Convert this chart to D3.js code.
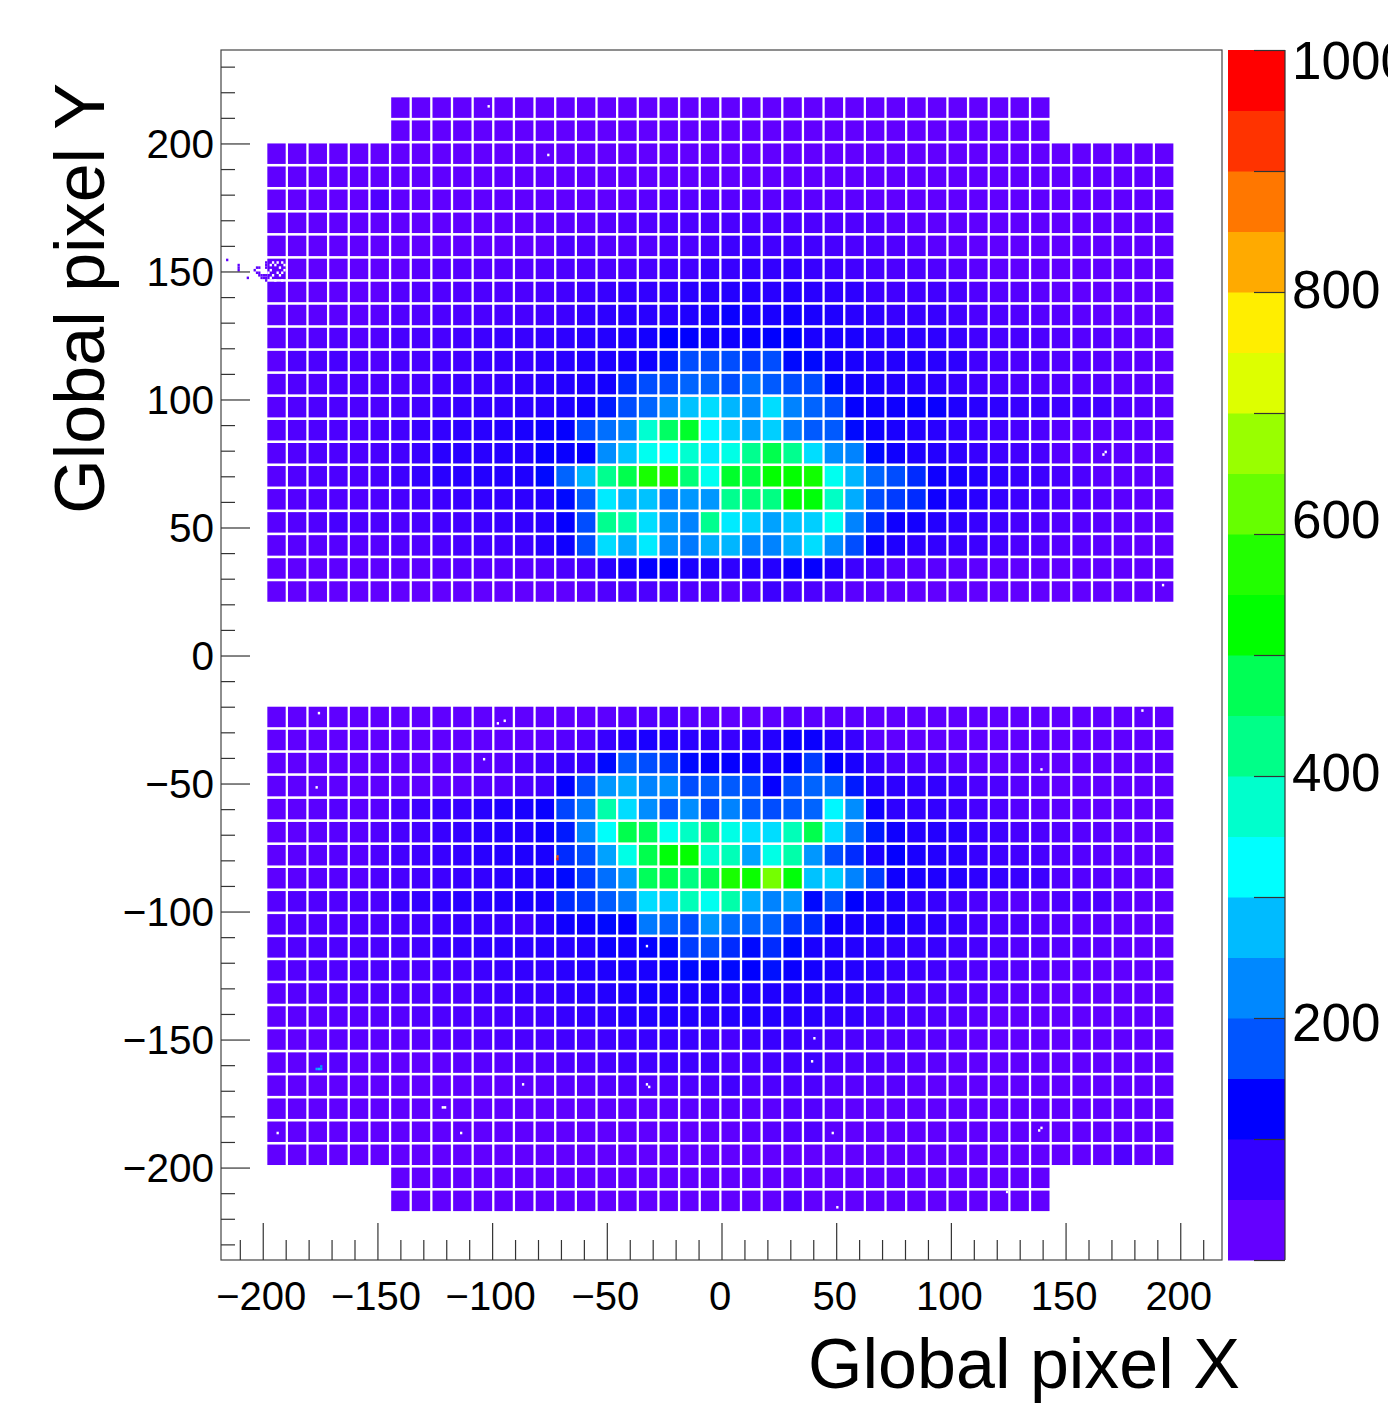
<!DOCTYPE html>
<html>
<head>
<meta charset="utf-8">
<style>
  html, body { margin: 0; background: #fff; overflow: hidden; }
  svg { display: block; }
  text { font-family: "Liberation Sans", sans-serif; fill: #000; }
</style>
<script src="https://cdn.jsdelivr.net/npm/d3@7"></script>
</head>
<body>
<svg id="chart" width="1388" height="1403"></svg>
<script>
// mean counts per 8x8 tile. upper panel, top row first.
// short rows (32 tiles) are the caps, they sit centred on the 44 tile rows
const topRows = [
  [28,28,28,28,28,28,28,28,28,28,28,28,28,28,28,28,28,28,28,28,28,28,28,28,28,28,28,28,28,28,28,28],
  [28,28,28,28,28,28,28,28,28,28,28,28,28,28,28,28,28,28,28,28,28,28,28,28,28,28,28,28,28,28,28,28],
  [28,28,28,28,28,28,28,28,28,28, 28,28,28,28,28,28,28,28,28,28, 28,28,28,28,28,28,28,28,28,28, 28,28,28,28,28,28,28,28,28,28, 28,28,28,28],
  [30,30,30,30,30,30,30,30,30,30, 30,30,30,30,30,30,30,30,30,30, 30,30,30,30,30,30,30,30,30,30, 30,30,30,30,30,30,30,30,30,30, 30,30,30,30],
  [28,28,28,28,28,45,30,30,30,30, 30,30,30,30,30,30,30,30,36,38, 38,40,38,38,36,36,35,35,34,32, 30,30,30,30,30,30,30,30,30,30, 30,30,30,30],
  [30,30,30,30,30,30,30,30,30,30, 30,30,30,35,35,35,40,42,45,48, 50,50,52,52,50,50,48,46,45,45, 36,34,32,32,30,30,30,30,30,30, 30,30,30,30],
  [30,30,30,30,30,30,30,30,30,30, 30,30,30,32,50,45,40,40,42,50, 50,55,65,65,60,60,60,55,50,50, 45,40,35,32,30,30,30,30,30,30, 30,30,30,30],
  [30,30,30,30,30,30,30,38,40,40, 40,40,42,45,50,50,50,50,55,60, 60,70,70,75,75,75,70,65,60,55, 50,50,45,40,35,32,30,30,30,30, 30,30,30,30],
  [35,32,32,32,32,32,42,45,45,45, 48,48,50,55,60,65,70,75,75,75, 85,85,90,90,85,90,85,80,80,65, 60,60,60,55,45,40,40,35,32,30, 30,30,30,30],
  [35,35,35,35,35,38,45,45,50,50, 52,55,55,60,65,75,80,85,85,85, 95,100,115,100,100,105,100,95,85,80, 70,70,70,60,50,50,45,40,40,35, 32,30,30,30],
  [35,40,42,45,42,45,55,55,55,60, 65,70,70,75,80,85,90,95,105,125, 125,110,110,115,125,125,100,100,100,85, 85,80,80,70,60,55,55,50,45,40, 40,35,32,30],
  [35,50,50,55,50,45,55,55,60,60, 70,70,70,80,85,90,95,100,110,140, 170,170,170,160,170,130,130,105,100,90, 90,90,85,80,60,55,50,50,45,45, 40,35,35,30],
  [40,45,45,50,50,50,50,55,60,65, 65,70,75,85,90,95,105,150,170,170, 190,190,170,200,180,170,170,130,105,100, 90,85,80,70,60,55,50,45,45,40, 40,35,35,30],
  [38,45,50,50,50,50,55,60,65,70, 75,75,80,85,95,105,140,170,190,230, 280,300,270,230,300,220,190,170,120,110, 110,115,115,95,85,80,70,70,65,60, 60,45,40,35],
  [40,45,48,50,50,55,60,70,75,80, 85,90,100,110,120,170,200,220,370,460, 500,320,290,250,290,210,180,180,130,110, 100,90,85,75,65,60,55,50,40,35, 35,35,35,32],
  [40,45,50,50,50,55,60,70,85,85, 85,90,90,115,115,120,230,280,340,330, 370,310,350,420,480,420,300,230,220,130, 110,95,90,80,70,65,60,55,40,35, 35,35,32,30],
  [38,45,48,50,50,55,65,75,85,85, 90,90,95,130,190,270,420,480,560,560, 440,340,500,480,530,530,550,340,270,190, 170,150,110,100,90,80,70,65,55,50, 35,35,32,30],
  [38,42,45,45,45,50,55,60,65,70, 75,75,80,90,130,180,310,270,280,220, 240,240,420,440,430,520,520,380,260,170, 160,150,110,95,85,75,65,60,50,45, 40,35,32,30],
  [38,42,45,55,50,50,50,55,60,60, 65,70,75,85,120,170,420,400,300,240, 220,420,310,290,250,280,290,340,220,150, 110,105,90,80,70,65,55,50,45,42, 38,35,32,30],
  [35,38,38,40,40,40,45,45,50,55, 60,60,65,85,110,170,300,260,310,230, 210,260,270,220,220,260,300,230,170,110, 95,80,75,70,65,60,50,45,40,38, 35,32,30,30],
  [30,30,30,32,32,32,34,34,36,38, 38,38,38,42,50,55,85,105,120,125, 100,95,80,90,90,110,120,95,65,60, 40,38,36,34,32,32,30,30,30,30, 30,30,30,30],
  [28,28,28,28,28,28,28,28,28,28, 28,28,28,28,30,35,45,50,50,50, 45,45,40,45,65,55,50,45,35,35, 32,30,28,28,28,28,28,28,28,28, 28,28,28,28]
]

// lower panel, top row first
const bottomRows = [
  [30,30,30,30,30,30,30,30,30,30, 30,30,30,30,30,30,33,38,42,48, 38,33,30,30,32,38,35,35,35,30, 30,30,30,30,30,30,30,30,30,30, 30,30,30,30],
  [30,30,30,30,30,30,30,30,30,30, 30,30,30,32,40,45,70,85,100,90, 85,80,70,85,90,110,115,90,70,35, 30,30,30,30,30,30,30,30,30,30, 30,30,30,30],
  [30,30,30,30,30,30,30,30,30,30, 35,38,45,60,70,70,130,180,170,160, 130,120,120,110,100,120,160,120,100,70, 50,45,45,35,32,30,30,30,30,30, 30,30,30,30],
  [32,32,32,32,32,32,32,32,32,32, 40,40,50,60,120,170,240,260,220,230, 170,180,180,170,120,170,190,190,140,90, 80,75,75,65,50,50,38,35,30,30, 30,30,30,30],
  [30,32,35,40,35,38,55,65,70,70, 85,95,100,115,165,210,400,300,230,180, 230,170,220,180,170,180,190,320,230,110, 80,75,75,65,55,50,40,35,35,30, 30,30,30,30],
  [30,32,35,38,38,45,55,60,70,75, 85,90,90,110,140,220,330,480,470,340, 380,420,350,300,300,390,480,300,200,140, 110,90,90,85,70,65,55,50,45,40, 38,32,30,30],
  [32,35,38,40,40,50,60,65,70,75, 85,90,95,100,150,170,250,350,480,520, 530,370,390,250,350,400,240,170,150,100, 120,100,90,85,70,65,60,55,45,42, 38,35,32,30],
  [32,35,38,40,40,50,55,60,65,70, 75,85,90,100,130,160,200,240,470,480, 430,470,560,540,640,520,280,290,220,160, 110,100,95,90,80,75,70,65,45,42, 40,35,32,30],
  [40,45,45,45,50,50,70,75,80,85, 85,90,100,100,150,160,180,210,300,290, 390,340,400,260,220,240,130,170,125,100, 95,75,70,60,50,45,38,38,50,50, 50,35,32,30],
  [40,45,45,45,48,50,55,60,65,70, 70,70,60,85,110,110,130,120,210,190, 170,240,200,190,190,160,150,110,100,100, 100,85,80,70,55,50,50,40,40,35, 35,32,30,30],
  [42,45,48,48,50,52,55,60,70,72, 78,80,80,85,85,90,110,105,120,130, 160,170,150,130,150,130,100,95,90,85, 75,70,70,60,55,50,42,42,40,38, 35,32,30,30],
  [40,42,45,45,48,50,50,50,55,55, 65,70,75,75,85,90,95,100,100,110, 130,120,130,125,135,115,105,95,90,85, 70,65,60,50,45,45,40,38,35,32, 30,30,30,30],
  [35,40,40,42,42,45,45,48,50,50, 60,65,70,70,80,85,90,95,105,100, 100,100,90,95,95,90,90,85,80,70, 60,50,50,45,42,38,35,30,30,30, 30,30,30,30],
  [32,35,35,38,38,40,40,45,48,50, 52,55,58,62,72,75,78,88,92,95, 92,85,90,95,90,85,85,75,75,60, 55,50,45,40,35,30,30,30,30,30, 30,30,30,30],
  [30,30,30,35,35,35,35,38,40,42, 45,50,52,52,60,55,62,65,70,70, 70,65,55,65,70,65,60,55,50,45, 42,40,38,35,30,30,30,30,30,30, 30,30,30,30],
  [30,30,35,38,30,30,30,30,32,35, 38,38,40,42,48,50,55,60,62,65, 65,62,50,55,58,58,65,50,45,45, 40,38,35,30,30,30,30,30,30,30, 30,30,30,30],
  [30,30,30,30,30,30,30,30,30,30, 30,30,32,35,38,38,42,45,42,45, 48,50,60,45,48,50,50,40,38,38, 38,32,30,30,30,30,30,30,30,30, 30,30,30,30],
  [30,30,30,30,30,30,30,30,30,30, 30,30,30,30,30,30,32,32,32,35, 35,35,38,35,35,40,42,35,32,30, 30,30,30,30,30,30,30,30,30,30, 30,30,30,30],
  [30,30,30,30,30,30,30,30,30,30, 30,30,30,30,30,30,30,30,30,30, 30,30,32,35,38,40,45,35,30,30, 30,30,30,30,30,30,30,30,30,30, 30,30,30,30],
  [28,28,28,28,28,28,28,28,28,28, 28,28,28,28,28,28,28,28,28,28, 28,28,28,28,28,28,28,28,28,28, 28,28,28,28,28,28,28,28,28,28, 28,45,28,28],
  [28,28,28,28,28,28,28,28,28,28,28,28,28,28,28,28,28,28,28,28,28,28,28,28,28,28,28,28,28,28,28,28],
  [28,28,28,28,28,28,28,28,28,28,28,28,28,28,28,28,28,28,28,40,28,28,28,28,28,28,28,28,28,28,28,28]
]

// single odd pixels: x, y, counts. counts 0 = dead pixel, it shows white
const oddX = [-176,-98,-95,-104,-177,-33,-87,-33,-32,-122,-121,-194,-114,183,139,40,39,48,139,138,50,124,-102,-76,167,166,192,
  -177,-176,-175,-175,-72,-72,
  -216,-211,-211,-211,-207,-203,-202,-204,-203,-202,-201,-202,-201,-200,-200,-199,-199,-199,-199,-199,-199,
  -197,-195,-193,-194,-192,-196,-193,-191,-195,-192,-197,-196,-194,-192,-191,-198,-197]
const oddY = [-23,-27,-26,-41,-52,-114,-168,-168,-169,-177,-177,-187,-187,-22,-45,-150,-159,-187,-185,-186,-216,-210,214,195,79,78,27,
  -162,-162,-162,-161,-80,-79,
  154,152,151,150,147,151,151,150,149,149,148,148,147,148,147,146,147,148,151,152,153,
  152,152,151,149,149,148,148,150,146,146,147,153,153,153,152,149,150]
const oddV = [0,0,0,0,0,0,0,0,0,0,0,0,0,0,0,0,0,0,0,0,0,0,0,0,0,0,0,
  260,280,260,240,950,900,
  30,30,30,30,30,30,30,30,30,30,30,30,30,30,30,30,30,30,30,30,30,
  0,0,0,0,0,0,0,0,0,0,0,0,0,0,0,0,0]

// palette, one colour per 50 counts, low to high
const paletteColors = ['#6400ff','#3300ff','#0000ff','#0055ff','#0088ff','#00bbff','#00ffff','#00ffcc','#00ff88','#00ff55',
  '#00ff00','#22ff00','#66ff00','#99ff00','#ddff00','#ffee00','#ffaa00','#ff7700','#ff3300','#ff0000']
const barTicks = [0, 100, 200, 300, 400, 500, 600, 700, 800, 900, 1000]
const barLabels = [200, 400, 600, 800, 1000]
const barLabelNudge = { 200: 6, 400: -2, 600: -13, 800: -1, 1000: 12 } // they were placed by hand in the original

const xMajor = [-200, -150, -100, -50, 0, 50, 100, 150, 200]
const xMinor = [-210, -190, -180, -170, -160, -140, -130, -120, -110, -90, -80, -70, -60, -40, -30, -20, -10, 10, 20, 30, 40, 60, 70, 80, 90, 110, 120, 130, 140, 160, 170, 180, 190, 210]
const yMajor = [-200, -150, -100, -50, 0, 50, 100, 150, 200]
const yMinor = [-230, -220, -210, -190, -180, -170, -160, -140, -130, -120, -110, -90, -80, -70, -60, -40, -30, -20, -10, 10, 20, 30, 40, 60, 70, 80, 90, 110, 120, 130, 140, 160, 170, 180, 190, 210, 220, 230]

const tileStart = -198 // left edge of first tile in the 44 tile rows
const tilePitch = 9
const tileSize = 8
const topStart = 218 // top edge of upper panel
const bottomStart = -20

const frame = { left: 221, right: 1222, top: 50, bottom: 1260 }
const bar = { left: 1228, right: 1285, tick: 31 }

const x = d3.scaleLinear().domain([-218.2, 218.2]).range([frame.left, frame.right])
const y = d3.scaleLinear().domain([236.5, -236.1]).range([frame.top, frame.bottom])
const z = d3.scaleLinear().domain([0, 1000]).range([frame.bottom, frame.top])

// tile is a mean over speckled pixels, so blend between the palette bands
const tileColor = d3.scaleLinear()
  .domain(paletteColors.map((c, i) => i * 50 + 25))
  .range(paletteColors)
  .clamp(true)

const minusSign = d => String(d).replace('-', '\u2212')

const svg = d3.select('#chart')

function drawRows (rows, startY) {
  rows.forEach((row, r) => {
    const top = startY - r * tilePitch
    const first = tileStart + (44 - row.length) / 2 * tilePitch
    svg.append('g').selectAll('rect')
      .data(row)
      .join('rect')
      .attr('x', (d, c) => x(first + c * tilePitch))
      .attr('y', y(top))
      .attr('width', x(tileSize) - x(0))
      .attr('height', y(0) - y(tileSize))
      .attr('fill', d => tileColor(d))
  })
}
drawRows(topRows, topStart)
drawRows(bottomRows, bottomStart)

// odd pixels on top of the tiles
svg.append('g').selectAll('rect')
  .data(oddX)
  .join('rect')
  .attr('x', d => x(d))
  .attr('y', (d, i) => y(oddY[i] + 1))
  .attr('width', x(1) - x(0))
  .attr('height', y(0) - y(1))
  .attr('fill', (d, i) => oddV[i] === 0 ? '#fff' : tileColor(oddV[i]))

// frame
svg.append('rect')
  .attr('x', frame.left).attr('y', frame.top)
  .attr('width', frame.right - frame.left).attr('height', frame.bottom - frame.top)
  .attr('fill', 'none').attr('stroke', '#444').attr('stroke-width', 1.2)

function styleAxis (g) {
  g.select('.domain').remove()
  g.selectAll('line').attr('stroke', '#333').attr('stroke-width', 1.2)
  g.selectAll('text').style('font-family', '"Liberation Sans", sans-serif').attr('fill', '#000')
}

// x axis, ticks point up into the plot
svg.append('g').attr('transform', `translate(0,${frame.bottom})`)
  .call(d3.axisBottom(x).tickValues(xMinor).tickSize(-20).tickFormat(''))
  .call(styleAxis)
svg.append('g').attr('transform', `translate(0,${frame.bottom})`)
  .call(d3.axisBottom(x).tickValues(xMajor).tickSize(-37).tickFormat(minusSign))
  .call(styleAxis)
  .call(g => g.selectAll('text')
    .attr('y', 36).attr('dy', '0.35em').attr('dx', -2).style('font-size', '40px'))

// y axis, ticks point right into the plot
svg.append('g').attr('transform', `translate(${frame.left},0)`)
  .call(d3.axisLeft(y).tickValues(yMinor).tickSize(-14).tickFormat(''))
  .call(styleAxis)
svg.append('g').attr('transform', `translate(${frame.left},0)`)
  .call(d3.axisLeft(y).tickValues(yMajor).tickSize(-29).tickFormat(minusSign))
  .call(styleAxis)
  .call(g => g.selectAll('text')
    .attr('x', -7).attr('dy', '0.35em').style('font-size', '40.5px'))

// colour bar
svg.append('g').selectAll('rect')
  .data(paletteColors)
  .join('rect')
  .attr('x', bar.left)
  .attr('y', (d, i) => z((i + 1) * 50))
  .attr('width', bar.right - bar.left)
  .attr('height', (d, i) => z(i * 50) - z((i + 1) * 50) + 0.5)
  .attr('fill', d => d)

svg.append('line')
  .attr('x1', bar.right).attr('x2', bar.right)
  .attr('y1', frame.top).attr('y2', frame.bottom)
  .attr('stroke', '#333').attr('stroke-width', 1.2)

svg.append('g').attr('transform', `translate(${bar.right},0)`)
  .call(d3.axisLeft(z).tickValues(barTicks).tickSize(bar.tick).tickFormat(''))
  .call(styleAxis)

svg.append('g').attr('transform', `translate(${bar.right},0)`)
  .call(d3.axisRight(z).tickValues(barLabels).tickSize(0).tickPadding(7).tickFormat(d => String(d)))
  .call(g => g.select('.domain').remove())
  .call(g => g.selectAll('text')
    .style('font-family', '"Liberation Sans", sans-serif').style('font-size', '53px').attr('fill', '#000')
    .attr('transform', d => `translate(0,${barLabelNudge[d]})`))

// axis titles
svg.append('text')
  .attr('x', 1240).attr('y', 1388)
  .attr('text-anchor', 'end')
  .style('font-size', '70px')
  .text('Global pixel X')

svg.append('text')
  .attr('transform', 'translate(104,83) rotate(-90)')
  .attr('text-anchor', 'end')
  .style('font-size', '70px')
  .text('Global pixel Y')
</script>
</body>
</html>
